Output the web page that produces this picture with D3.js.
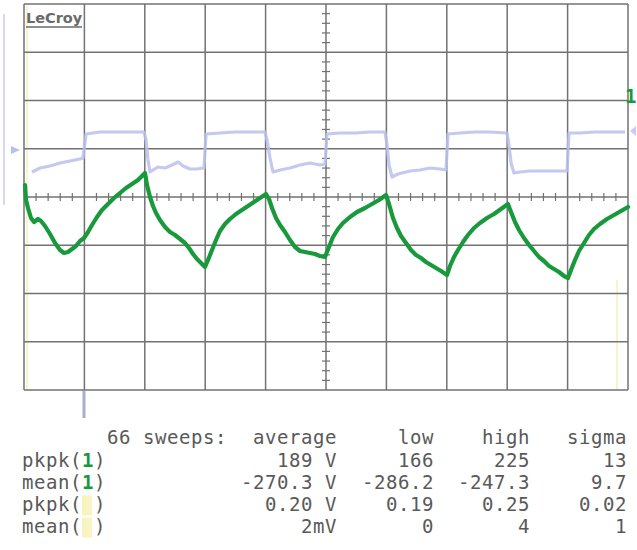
<!DOCTYPE html>
<html><head><meta charset="utf-8">
<script src="https://cdn.jsdelivr.net/npm/d3@7/dist/d3.min.js"></script>
<style>body{margin:0;background:#fff}svg{display:block}</style>
</head><body>
<script>
// Channel 1 (green) — sample index vs level (1 unit = 1/48 div)
const ch1T = [1,2,4,7,10,14,17,21,26,31,36,40,44,48,52,56,60,64,68,73,78,84,90,96,102,108,114,118,121,123,126,129,132,136,141,146,151,156,161,165,169,173,177,181,184,188,192,196,201,206,212,218,224,230,236,242,245,248,252,256,261,266,271,276,281,286,291,296,301,305,309,314,319,326,333,341,348,355,362,365,369,373,377,382,387,392,397,402,407,412,417,423,426,430,434,439,444,450,456,463,470,477,484,487,491,495,500,505,510,515,520,525,530,535,540,544,547,551,555,560,565,570,576,583,590,597,604];
const ch1V = [12,-3,-11,-21,-25,-22,-24,-29,-37,-46,-53,-56,-55,-52,-49,-44,-41,-35,-28,-20,-13,-7,-1,4,9,13,17,21,24,12,0,-9,-16,-23,-30,-35,-38,-42,-46,-51,-57,-62,-66,-70,-63,-53,-43,-34,-27,-22,-17,-13,-9,-5,-1,3,-2,-11,-21,-28,-35,-43,-50,-54,-55,-56,-57,-59,-60,-50,-40,-32,-26,-20,-15,-11,-7,-3,2,-7,-21,-31,-39,-46,-53,-58,-61,-65,-68,-71,-74,-78,-69,-60,-53,-45,-38,-31,-26,-21,-17,-12,-7,-15,-25,-33,-41,-48,-54,-60,-64,-69,-72,-75,-79,-81,-73,-63,-54,-46,-38,-32,-27,-22,-18,-14,-10];
// Channel 2 (blue)
const ch2T = [8,16,26,36,46,56,59,62,76,91,106,120,122,124,126,129,134,141,148,154,159,166,173,180,182,196,211,226,241,243,246,249,256,266,276,286,296,301,303,316,331,346,361,363,365,368,374,386,396,406,416,422,424,436,451,466,483,485,487,490,496,506,516,526,536,543,545,556,571,586,601];
const ch2V = [25,29,31,34,36,38,39,63,65,65,65,65,57,37,25,27,30,29,32,35,31,28,28,29,63,64,65,65,65,57,39,25,27,29,32,34,32,33,63,64,64,65,65,52,32,20,23,26,27,29,28,27,63,64,65,65,64,52,34,24,25,26,26,26,26,26,64,64,65,65,65];

const header = ["66 sweeps:", "average", "low", "high", "sigma"];
const rowNames = ["pkpk", "mean", "pkpk", "mean"];
const rowChan = ["1", "1", "", ""];
const colAverage = ["189 V", "-270.3 V", "0.20 V", "2mV"];
const colLow = ["166", "-286.2", "0.19", "0"];
const colHigh = ["225", "-247.3", "0.25", "4"];
const colSigma = ["13", "9.7", "0.02", "1"];

const W = 637, H = 550;
const svg = d3.select("body").append("svg").attr("width", W).attr("height", H);

const gx = d3.scaleLinear().domain([0, 10]).range([24, 628]);
const gy = d3.scaleLinear().domain([-4, 4]).range([390, 4]);
const x = d3.scaleLinear().domain([0, 604]).range([24, 628]);
const y = d3.scaleLinear().domain([-193, 193]).range([390, 4]);

// faint side decorations
svg.append("line").attr("x1", 4).attr("x2", 4).attr("y1", 14).attr("y2", 205)
  .attr("stroke", "#c6cdf0").attr("stroke-width", 2).attr("opacity", 0.7);
svg.append("line").attr("x1", 27).attr("x2", 27).attr("y1", 5).attr("y2", 390)
  .attr("stroke", "#f3efb0").attr("stroke-width", 2).attr("opacity", 0.6);
svg.append("line").attr("x1", 617).attr("x2", 617).attr("y1", 280).attr("y2", 390)
  .attr("stroke", "#f3efb0").attr("stroke-width", 2).attr("opacity", 0.6);

// grid
const grid = svg.append("g").attr("stroke", "#727272").attr("stroke-width", 1.5);
grid.selectAll(".v").data(d3.range(0, 11)).join("line")
  .attr("x1", d => gx(d)).attr("x2", d => gx(d)).attr("y1", gy(4)).attr("y2", gy(-4));
grid.selectAll(".h").data(d3.range(-4, 5)).join("line")
  .attr("x1", gx(0)).attr("x2", gx(10)).attr("y1", d => gy(d)).attr("y2", d => gy(d));
// minor ticks on centre axes
const minorX = d3.range(0, 50.01, 1).filter(i => i % 5 !== 0).map(i => i / 5);
grid.selectAll(".mx").data(minorX).join("line")
  .attr("x1", d => gx(d)).attr("x2", d => gx(d)).attr("y1", gy(0) - 4).attr("y2", gy(0) + 4)
  .attr("stroke-width", 1.2);
const minorY = d3.range(-20, 20.01, 1).filter(i => i % 5 !== 0).map(i => i / 5);
grid.selectAll(".my").data(minorY).join("line")
  .attr("y1", d => gy(d)).attr("y2", d => gy(d)).attr("x1", gx(5) - 4).attr("x2", gx(5) + 4)
  .attr("stroke-width", 1.2);

// LeCroy label
svg.append("text").attr("x", 26).attr("y", 23).text("LeCroy")
  .attr("font-family", "DejaVu Sans").attr("font-weight", "bold").attr("font-size", 14.5)
  .attr("fill", "#6a6a6a");
svg.append("line").attr("x1", 26).attr("x2", 82).attr("y1", 27).attr("y2", 27)
  .attr("stroke", "#6a6a6a").attr("stroke-width", 1.5);

// traces
const line = d3.line().x(d => x(d[0])).y(d => y(d[1]));
svg.append("path").datum(d3.zip(ch2T, ch2V)).attr("d", line)
  .attr("fill", "none").attr("stroke", "#b8bfec").attr("stroke-width", 3.2)
  .attr("stroke-linejoin", "round").attr("opacity", 0.85);
svg.append("path").datum(d3.zip(ch1T, ch1V)).attr("d", line)
  .attr("fill", "none").attr("stroke", "#189a3c").attr("stroke-width", 4.2)
  .attr("stroke-linejoin", "round").attr("stroke-linecap", "round");

// markers
svg.append("path").attr("d", "M11,146 L20,150 L11,154 Z").attr("fill", "#b8bfec");
svg.append("path").attr("d", "M636,126 L630,131 L636,136 Z").attr("fill", "#c6cdf0");
svg.append("text").attr("x", 625).attr("y", 103).text("1")
  .attr("font-family", "DejaVu Sans Mono").attr("font-weight", "bold").attr("font-size", 19)
  .attr("fill", "#189a3c");
svg.append("line").attr("x1", x(60)).attr("x2", x(60)).attr("y1", 391).attr("y2", 418)
  .attr("stroke", "#a8aecb").attr("stroke-width", 3);

// measurement table
const font = {family: "DejaVu Sans Mono", size: 19, ls: 0.55};
const tbl = svg.append("g").attr("font-family", font.family).attr("font-size", font.size)
  .attr("letter-spacing", font.ls).attr("fill", "#595959");
const baseY = [444, 466.5, 488.5, 510.5, 532.5];
const colEnds = [337, 434, 530, 627];
tbl.append("text").attr("x", 107).attr("y", baseY[0]).text(header[0]).attr("xml:space", "preserve");
header.slice(1).forEach((h, i) => {
  tbl.append("text").attr("x", colEnds[i]).attr("y", baseY[0]).attr("text-anchor", "end").text(h);
});
const charW = font.size * 0.602 + font.ls;
rowNames.forEach((n, r) => {
  const yy = baseY[r + 1];
  if (rowChan[r] === "") {
    tbl.append("rect").attr("x", 22 + 5 * charW).attr("y", yy - 15).attr("width", charW - 2).attr("height", 20)
      .attr("fill", "#f5f0a8").attr("opacity", 0.7);
  }
  const t = tbl.append("text").attr("x", 22).attr("y", yy).attr("xml:space", "preserve");
  t.append("tspan").text(n + "(");
  t.append("tspan").text(rowChan[r] === "" ? " " : rowChan[r])
    .attr("fill", "#189a3c").attr("font-weight", "bold");
  t.append("tspan").text(")");
});
[colAverage, colLow, colHigh, colSigma].forEach((col, c) => {
  col.forEach((v, r) => {
    tbl.append("text").attr("x", colEnds[c]).attr("y", baseY[r + 1]).attr("text-anchor", "end").text(v);
  });
});
</script>
</body></html>
